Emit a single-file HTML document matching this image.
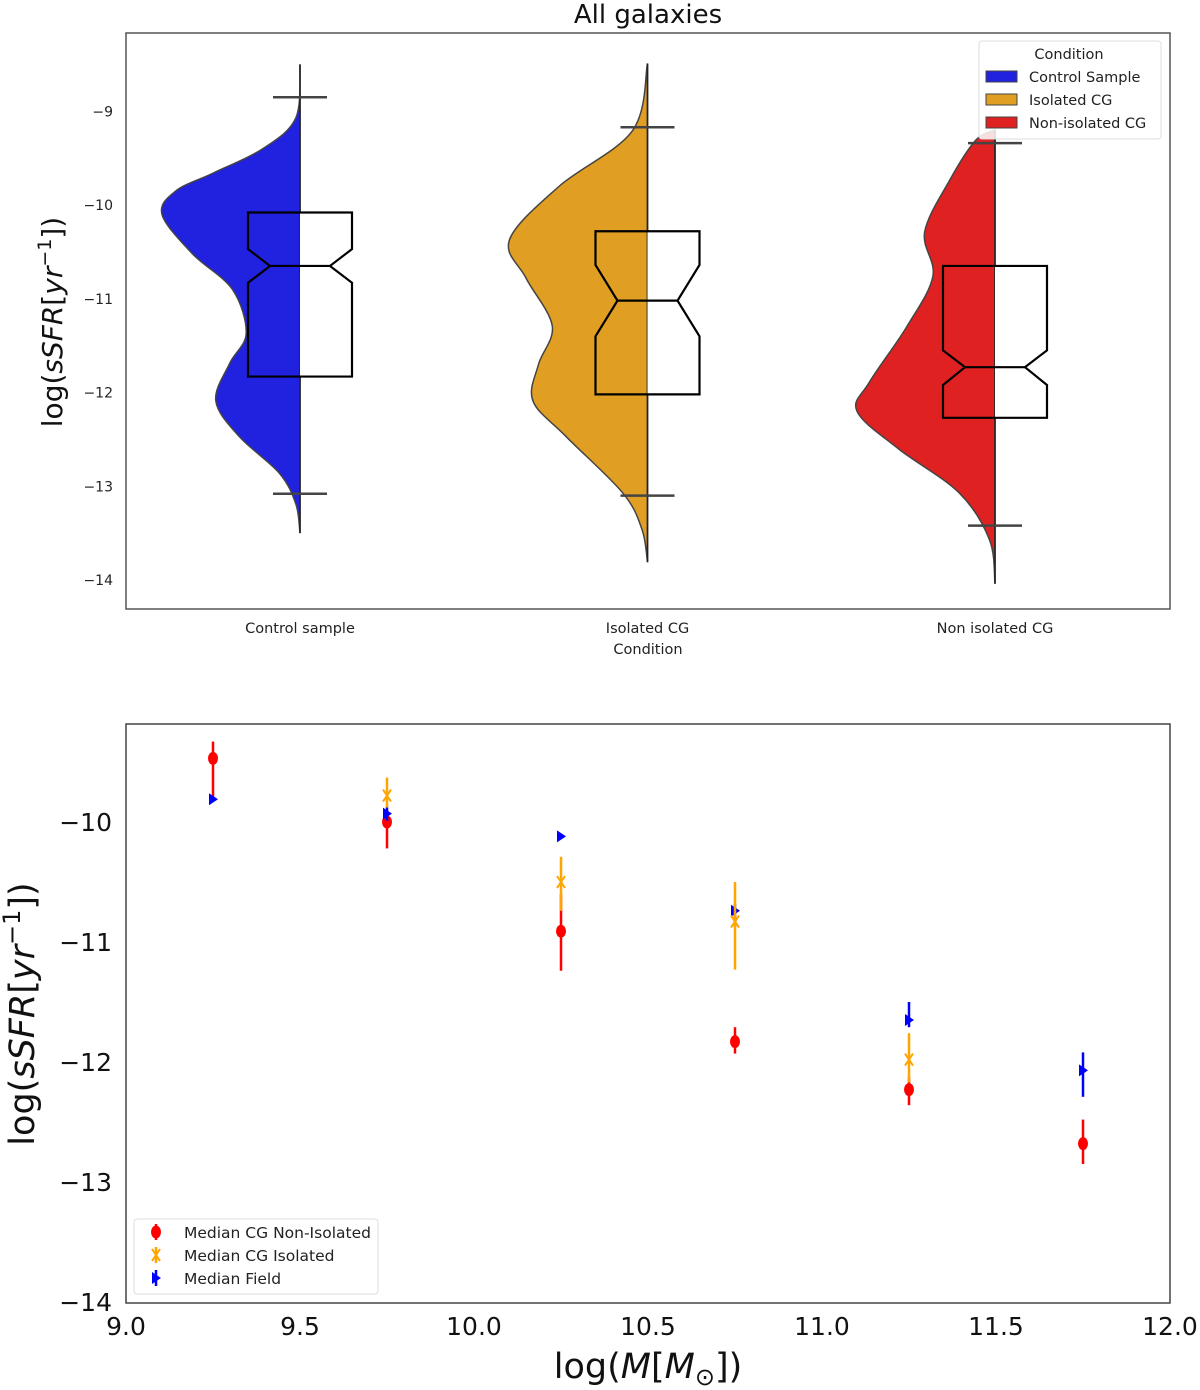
<!DOCTYPE html>
<html><head><meta charset="utf-8"><style>
html,body{margin:0;padding:0;background:#fff;}
svg{display:block;font-family:"DejaVu Sans","Liberation Sans",sans-serif;}
</style></head><body>
<svg id="fig" width="1200" height="1390" viewBox="0 0 1200 1390" xmlns="http://www.w3.org/2000/svg">
<g id="topPanel"></g>
<g id="botPanel"></g>
</svg>
<script>
// ---------- Top panel data ----------
const categories = ["Control sample", "Isolated CG", "Non isolated CG"];
const legendLabels = ["Control Sample", "Isolated CG", "Non-isolated CG"];
const topYTicks = [-9, -10, -11, -12, -13, -14];
const q1Vals = [-10.08, -10.28, -10.65];
const q3Vals = [-11.83, -12.02, -12.27];
const medianVals = [-10.65, -11.02, -11.73];
const notchHiVals = [-10.47, -10.64, -11.55];
const notchLoVals = [-10.83, -11.40, -11.92];
const whiskHiVals = [-8.85, -9.17, -9.34];
const whiskLoVals = [-13.08, -13.10, -13.42];
const kdeVals0 = [-8.5,-9.07,-9.4,-9.66,-9.85,-10.1,-10.52,-10.9,-11.37,-11.69,-12.09,-12.47,-12.86,-13.19,-13.5];
const kdeDens0 = [0,0.03,0.27,0.63,0.9,1,0.78,0.49,0.39,0.51,0.61,0.44,0.15,0.03,0];
const kdeVals1 = [-8.49,-9.21,-9.8,-10.37,-10.78,-11.29,-11.7,-12.09,-12.47,-13.07,-13.46,-13.81];
const kdeDens1 = [0,0.11,0.64,1,0.88,0.69,0.79,0.83,0.59,0.18,0.04,0];
const kdeVals2 = [-9.2,-9.31,-9.74,-10.29,-10.76,-11.3,-11.89,-12.2,-12.6,-13.07,-13.57,-14.04];
const kdeDens2 = [0,0.14,0.33,0.51,0.45,0.64,0.91,1,0.70,0.26,0.04,0];
const violinColors = ["#2121e0", "#e09f22", "#e02121"];

// ---------- Bottom panel data ----------
const massBins = [9.25, 9.75, 10.25, 10.75, 11.25, 11.75];
const nonIsoMed = [-9.47, -10.00, -10.91, -11.83, -12.23, -12.68];
const nonIsoLo  = [-9.81, -10.22, -11.24, -11.93, -12.36, -12.85];
const nonIsoHi  = [-9.33, -9.90, -10.60, -11.71, -12.13, -12.48];
const isoMed = [null, -9.78, -10.50, -10.83, -11.98, null];
const isoLo  = [null, -9.88, -10.74, -11.23, -12.17, null];
const isoHi  = [null, -9.63, -10.29, -10.50, -11.76, null];
const fieldMed = [-9.81, -9.93, -10.12, -10.74, -11.65, -12.07];
const fieldLo  = [-9.83, -9.99, -10.14, -10.87, -11.71, -12.29];
const fieldHi  = [-9.79, -9.87, -10.10, -10.68, -11.50, -11.92];
const botXTicks = [9.0, 9.5, 10.0, 10.5, 11.0, 11.5, 12.0];
const botYTicks = [-10, -11, -12, -13, -14];

const NS = "http://www.w3.org/2000/svg";
function mk(parent, tag, attrs, text){
  const e = document.createElementNS(NS, tag);
  for (const k in attrs) e.setAttribute(k, attrs[k]);
  if (text !== undefined) e.textContent = text;
  parent.appendChild(e); return e;
}

// ---------- Top panel ----------
const topG = document.getElementById('topPanel');
const T = {l:126, r:1170, t:33, b:609};
const ty = v => 205 + (-10 - v) * 93.75;
const tx = i => 300 + i * 347.5;
const maxHalf = 138, boxHalf = 52, notchHalf = 30;

let t = mk(topG, 'text', {x:648, y:23, 'font-size':26, 'text-anchor':'middle', fill:'#111'}, 'All galaxies');



topYTicks.forEach(v => {
  const e = mk(topG, 'text', {x:113, y:ty(v)+5, 'font-size':14, 'text-anchor':'end', fill:'#222'}, '\u2212' + Math.abs(v));
  
  
});

const kdeV = [kdeVals0, kdeVals1, kdeVals2], kdeD = [kdeDens0, kdeDens1, kdeDens2];
categories.forEach((c, i) => {
  const cx = tx(i);
  const vs = kdeV[i], ds = kdeD[i];
  const pts = vs.map((v, k) => [cx - ds[k] * maxHalf, ty(v)]);
  let d = `M${cx},${pts[0][1]} L${pts[0][0]},${pts[0][1]}`;
  for (let k = 0; k < pts.length - 1; k++) {
    const p0 = pts[Math.max(0,k-1)], p1 = pts[k], p2 = pts[k+1], p3 = pts[Math.min(pts.length-1,k+2)];
    const c1 = [p1[0] + (p2[0]-p0[0])/6, p1[1] + (p2[1]-p0[1])/6];
    const c2 = [p2[0] - (p3[0]-p1[0])/6, p2[1] - (p3[1]-p1[1])/6];
    d += ` C${c1[0]},${c1[1]} ${c2[0]},${c2[1]} ${p2[0]},${p2[1]}`;
  }
  d += ` L${cx},${pts[pts.length-1][1]} Z`;
  const vio = mk(topG, 'path', {d, fill:violinColors[i], stroke:'#444', 'stroke-width':1.5});
  
  

  const ln = mk(topG, 'line', {x1:cx, x2:cx, y1:ty(vs[0]), y2:ty(vs[vs.length-1]), stroke:'#222', 'stroke-width':1.6});
  
  

  [whiskHiVals[i], whiskLoVals[i]].forEach(w => {
    const cap = mk(topG, 'line', {x1:cx-27, x2:cx+27, y1:ty(w), y2:ty(w), stroke:'#444', 'stroke-width':2.5});
    
    
  });

  const yq1 = ty(q1Vals[i]), yq3 = ty(q3Vals[i]), ym = ty(medianVals[i]);
  const yh = ty(notchHiVals[i]), yl = ty(notchLoVals[i]);
  const L = cx - boxHalf, R = cx + boxHalf, nL = cx - notchHalf, nR = cx + notchHalf;
  const rightFill = `M${cx},${yq1} L${R},${yq1} L${R},${yh} L${nR},${ym} L${R},${yl} L${R},${yq3} L${cx},${yq3} Z`;
  const rf = mk(topG, 'path', {d:rightFill, fill:'#fff', stroke:'none'});
  
  
  const outline = `M${L},${yq1} L${R},${yq1} L${R},${yh} L${nR},${ym} L${R},${yl} L${R},${yq3} L${L},${yq3} L${L},${yl} L${nL},${ym} L${L},${yh} Z`;
  const bx = mk(topG, 'path', {d:outline, fill:'none', stroke:'#000', 'stroke-width':2.2});
  
  
  const md = mk(topG, 'line', {x1:nL, x2:nR, y1:ym, y2:ym, stroke:'#000', 'stroke-width':2.2});
  
  

  const lb = mk(topG, 'text', {x:cx, y:633, 'font-size':14.5, 'text-anchor':'middle', fill:'#222'}, c);
  
  
});

let fr = mk(topG, 'rect', {x:T.l, y:T.t, width:T.r-T.l, height:T.b-T.t, fill:'none', stroke:'#555', 'stroke-width':1.5});



t = mk(topG, 'text', {x:648, y:654, 'font-size':14.5, 'text-anchor':'middle', fill:'#222'}, 'Condition');



t = mk(topG, 'text', {transform:'translate(62,322) rotate(-90)', 'font-size':28, 'text-anchor':'middle', fill:'#111'});


mk(t, 'tspan', {}, 'log(');
mk(t, 'tspan', {'font-style':'italic'}, 'sSFR');
mk(t, 'tspan', {}, '[');
mk(t, 'tspan', {'font-style':'italic'}, 'yr');
mk(t, 'tspan', {'font-size':19, dy:-11}, '\u22121');
mk(t, 'tspan', {dy:11}, '])');

const lg = mk(topG, 'g', {});


mk(lg, 'rect', {x:979, y:41, width:182, height:98, rx:3, fill:'rgba(255,255,255,0.85)', stroke:'#ddd', 'stroke-width':1});
mk(lg, 'text', {x:1069, y:59, 'font-size':14.5, 'text-anchor':'middle', fill:'#222'}, 'Condition');
legendLabels.forEach((s, i) => {
  const yy = 77 + i * 23;
  const e = mk(lg, 'g', {});
  
  
  mk(e, 'rect', {x:986, y:yy-6, width:31, height:11, fill:violinColors[i], stroke:'#444', 'stroke-width':1});
  mk(e, 'text', {x:1029, y:yy+5, 'font-size':14.5, fill:'#222'}, s);
});

// ---------- Bottom panel ----------
const botG = document.getElementById('botPanel');
const B = {l:126, r:1170, t:724, b:1303};
const bx_ = m => 126 + (m - 9) * 348;
const by = v => 822 + (-10 - v) * 120;

botYTicks.forEach(v => {
  const e = mk(botG, 'text', {x:112, y:by(v)+9, 'font-size':25, 'text-anchor':'end', fill:'#111'}, '\u2212' + Math.abs(v));
  
  
});
botXTicks.forEach(v => {
  const e = mk(botG, 'text', {x:bx_(v), y:1335, 'font-size':25, 'text-anchor':'middle', fill:'#111'}, v.toFixed(1));
  
  
});

function series(med, lo, hi, color, kind, name){
  const g = mk(botG, 'g', {});
  
  
  massBins.forEach((m, k) => {
    if (med[k] === null) return;
    const x = bx_(m), y = by(med[k]);
    const eb = mk(g, 'line', {x1:x, x2:x, y1:by(hi[k]), y2:by(lo[k]), stroke:color, 'stroke-width':2.5});
    
    
    let mkr;
    if (kind === 'o') mkr = mk(g, 'ellipse', {cx:x, cy:y, rx:5, ry:6.5, fill:color});
    else if (kind === 'x') mkr = mk(g, 'path', {d:`M${x-4},${y-6} L${x+4},${y+6} M${x+4},${y-6} L${x-4},${y+6}`, stroke:color, 'stroke-width':2, fill:'none'});
    else mkr = mk(g, 'path', {d:`M${x-4},${y-6} L${x+5},${y} L${x-4},${y+6} Z`, fill:color});
    
    
  });
}
series(nonIsoMed, nonIsoLo, nonIsoHi, '#ff0000', 'o', 'series-cg-non-isolated');
series(fieldMed, fieldLo, fieldHi, '#0000ff', '>', 'series-field');
series(isoMed, isoLo, isoHi, '#ffa500', 'x', 'series-cg-isolated');

fr = mk(botG, 'rect', {x:B.l, y:B.t, width:B.r-B.l, height:B.b-B.t, fill:'none', stroke:'#444', 'stroke-width':1.5});



t = mk(botG, 'text', {transform:'translate(34,1014) rotate(-90)', 'font-size':35, 'text-anchor':'middle', fill:'#111'});


mk(t, 'tspan', {}, 'log(');
mk(t, 'tspan', {'font-style':'italic'}, 'sSFR');
mk(t, 'tspan', {}, '[');
mk(t, 'tspan', {'font-style':'italic'}, 'yr');
mk(t, 'tspan', {'font-size':24, dy:-14}, '\u22121');
mk(t, 'tspan', {dy:14}, '])');

t = mk(botG, 'text', {x:648, y:1378, 'font-size':35, 'text-anchor':'middle', fill:'#111'});


mk(t, 'tspan', {}, 'log(');
mk(t, 'tspan', {'font-style':'italic'}, 'M');
mk(t, 'tspan', {}, '[');
mk(t, 'tspan', {'font-style':'italic'}, 'M');
mk(t, 'tspan', {'font-size':24, dy:7}, '\u2299');
mk(t, 'tspan', {dy:-7}, '])');

const lg2 = mk(botG, 'g', {});


mk(lg2, 'rect', {x:134, y:1219, width:244, height:75, rx:3, fill:'rgba(255,255,255,0.85)', stroke:'#ddd', 'stroke-width':1});
const legNames = ['Median CG Non-Isolated', 'Median CG Isolated', 'Median Field'];
const legCols = ['#ff0000', '#ffa500', '#0000ff'];
legNames.forEach((s, i) => {
  const yy = 1232 + i * 23;
  const e = mk(lg2, 'g', {});
  
  
  const x = 156;
  mk(e, 'line', {x1:x, x2:x, y1:yy-8, y2:yy+8, stroke:legCols[i], 'stroke-width':2.5});
  if (i === 0) mk(e, 'ellipse', {cx:x, cy:yy, rx:5, ry:6.5, fill:legCols[i]});
  else if (i === 1) mk(e, 'path', {d:`M${x-4},${yy-6} L${x+4},${yy+6} M${x+4},${yy-6} L${x-4},${yy+6}`, stroke:legCols[i], 'stroke-width':2});
  else mk(e, 'path', {d:`M${x-4},${yy-6} L${x+5},${yy} L${x-4},${yy+6} Z`, fill:legCols[i]});
  mk(e, 'text', {x:184, y:yy+6, 'font-size':15.5, fill:'#222'}, s);
});
</script>
</body></html>
